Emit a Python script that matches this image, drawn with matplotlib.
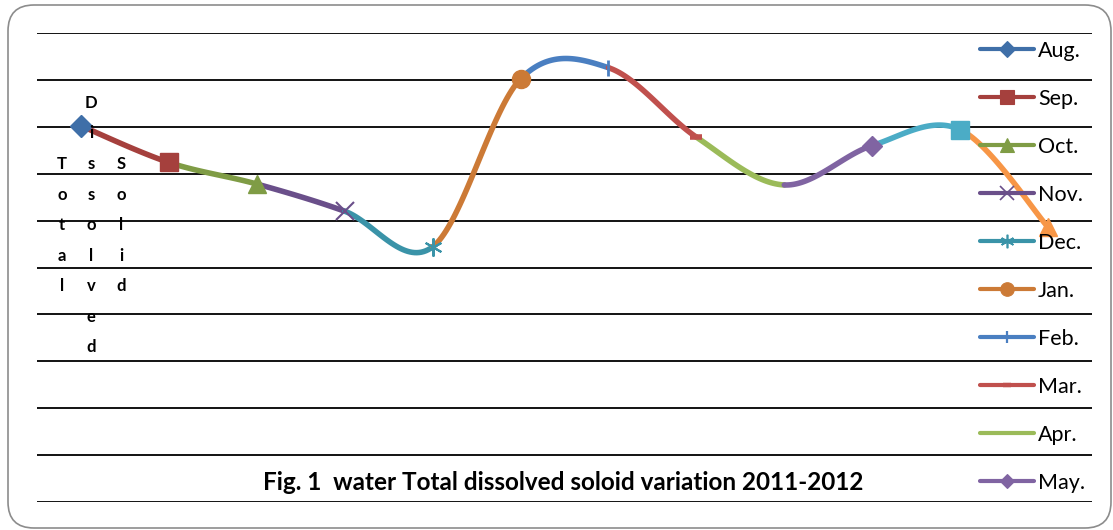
import numpy as np
import matplotlib.pyplot as plt
from matplotlib.lines import Line2D
from matplotlib.patches import FancyBboxPatch
from matplotlib.transforms import IdentityTransform

plt.rcParams['font.family'] = ['Lato', 'DejaVu Sans']

# months and their total dissolved solid values
months = ['Aug.', 'Sep.', 'Oct.', 'Nov.', 'Dec.', 'Jan.', 'Feb.', 'Mar.', 'Apr.', 'May.', 'Jun.', 'Jul.']
tds = [401, 362, 339, 310, 272, 451, 463, 389, 338, 380, 397, 293]

colors = ['#3F6FA8', '#A5403D', '#7F9C45', '#6A4F8A', '#3A93A8', '#CC7A36',
          '#4A7FC1', '#C0504D', '#9BBB59', '#8064A2', '#4BACC6', '#F79646']
markers = ['D', 's', '^', 'x', (6, 2, 0), 'o', '|', '_', 'None', 'D', 's', '^']
msizes = [11, 13, 13, 13, 13, 13, 12, 8, 0, 10, 13, 13]
mews = [1, 1, 1, 1.5, 1.5, 1, 2, 4, 1, 1, 1, 1]

W, H = 1113, 530
fig = plt.figure(figsize=(W / 100, H / 100), dpi=100)
ax = fig.add_axes([37 / W, 28 / H, 1055 / W, 469 / H])

x = np.arange(len(tds), dtype=float)
y = np.array(tds, dtype=float)
n = len(x)


def smooth_segment(i, steps=40):
    # excel-like smoothed line between point i-1 and i (bezier, catmull-rom controls)
    a = i - 1
    pa = np.array([x[a], y[a]])
    pb = np.array([x[i], y[i]])
    prev = np.array([x[max(a - 1, 0)], y[max(a - 1, 0)]])
    nxt = np.array([x[min(i + 1, n - 1)], y[min(i + 1, n - 1)]])
    c1 = pa + (pb - prev) / 6
    c2 = pb - (nxt - pa) / 6
    t = np.linspace(0, 1, steps)[:, None]
    pts = (1 - t) ** 3 * pa + 3 * (1 - t) ** 2 * t * c1 + 3 * (1 - t) * t ** 2 * c2 + t ** 3 * pb
    return pts[:, 0], pts[:, 1]


for i in range(1, n):
    sx, sy = smooth_segment(i)
    ax.plot(sx, sy, color=colors[i], lw=4, solid_capstyle='round', zorder=3)

for i in range(n):
    if markers[i] == 'None':
        continue
    ax.plot(x[i], y[i], linestyle='None', marker=markers[i], ms=msizes[i],
            color=colors[i], mec=colors[i], mew=mews[i], zorder=4)

ax.set_xlim(-0.5, 11.5)
ax.set_ylim(0, 500)
ax.set_yticks(np.arange(0, 501, 50))
ax.set_xticks([])
ax.yaxis.grid(True, color='black', lw=1.3)
ax.tick_params(left=False, labelleft=False)
for s in ax.spines.values():
    s.set_visible(False)
ax.set_axisbelow(True)

# legend (only first ten entries fit in the original)
handles = []
for i in range(10):
    handles.append(Line2D([], [], color=colors[i], lw=3, marker=markers[i],
                          ms=msizes[i] * 0.75, mec=colors[i], mew=mews[i] * 0.8,
                          solid_capstyle='round'))
leg = ax.legend(handles, months[:10], loc='upper left', bbox_to_anchor=(980 / W, 1 - 41 / H),
                bbox_transform=fig.transFigure, frameon=False, fontsize=15.5,
                handlelength=2.5, handletextpad=0.2, labelspacing=1.30, borderpad=0,
                borderaxespad=0)

# stacked axis title
cols = [(62, 'Total', 2), (91, 'Dissolved', 0), (121, 'Solid', 2)]
for cx, word, start in cols:
    for k, ch in enumerate(word):
        cy = 103 + 30.5 * (start + k)
        fig.text(cx / W, 1 - cy / H, ch, ha='center', va='center',
                 fontsize=12, fontweight='bold')

fig.text(563 / W, 1 - 483 / H, 'Fig. 1  water Total dissolved soloid variation 2011-2012',
         ha='center', va='center', fontsize=17.5, fontweight='bold')

frame = FancyBboxPatch((8, 2), 1103, 523, boxstyle='round,pad=0,rounding_size=26',
                       transform=IdentityTransform(), fill=False,
                       edgecolor='#8c8c8c', lw=1.2)
fig.patches.append(frame)

fig.savefig('out.png', dpi=100)
